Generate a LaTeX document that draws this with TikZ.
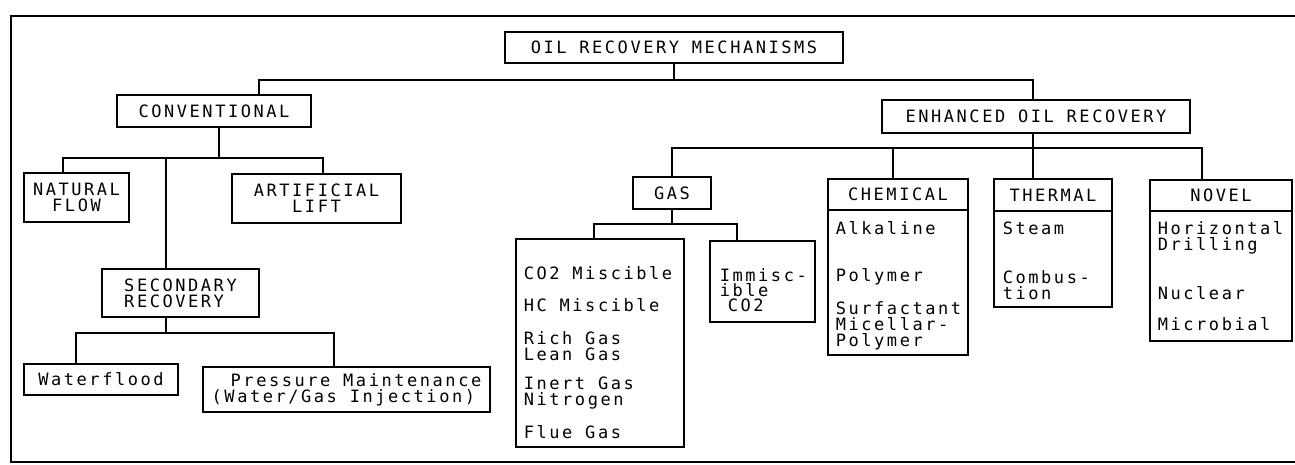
\documentclass[tikz,border=0pt]{standalone}
\usepackage{fontspec}
\newfontfamily\dm{DejaVu Sans Mono}[LetterSpace=15]
\begin{document}
\begin{tikzpicture}[x=1pt,y=-1pt,
  line width=1.7pt,
  lbl/.style={font=\dm\fontsize{17}{16}\selectfont},
  box/.style={draw, rectangle, inner sep=0pt, lbl},
  txt/.style={inner sep=0pt, anchor=base west, lbl}]
\useasboundingbox (0,0) rectangle (1295,464);
% frame
\draw (1295,16) -- (11,16) -- (11,462) -- (1295,462);
% boxes
\node[box, minimum width=338, minimum height=31] (root) at (674,47.5) {OIL RECOVERY MECHANISMS};
\node[box, minimum width=194, minimum height=32] (conv) at (214,111) {CONVENTIONAL};
\node[box, minimum width=308, minimum height=33] (eor) at (1036,116.5) {ENHANCED OIL RECOVERY};
\node[box, minimum width=105, minimum height=49, align=center] (natural) at (76.5,197.5) {NATURAL\\FLOW};
\node[box, minimum width=169, minimum height=49, align=center] (artificial) at (316.5,198.5) {ARTIFICIAL\\LIFT};
\node[box, minimum width=157, minimum height=48, align=left] (secondary) at (180.5,293) {SECONDARY\\RECOVERY};
\node[box, minimum width=154, minimum height=31] (waterflood) at (101,379.5) {Waterflood};
\node[box, minimum width=287, minimum height=45, align=left] (pressure) at (346.5,389.5) {\hspace*{19pt}Pressure Maintenance\\(Water/Gas Injection)};
\node[box, minimum width=78, minimum height=32] (gas) at (672,193) {GAS};
\node[box, minimum width=168, minimum height=208] (gaslist) at (600,343) {};
\node[box, minimum width=105, minimum height=81] (immisc) at (762.5,281.5) {};
\node[box, minimum width=140, minimum height=31] (chem) at (898,194.5) {CHEMICAL};
\node[box, minimum width=140, minimum height=145] (chembody) at (898,282.5) {};
\node[box, minimum width=118, minimum height=32] (thermal) at (1053,195) {THERMAL};
\node[box, minimum width=118, minimum height=96] (thermalbody) at (1053,259) {};
\node[box, minimum width=142, minimum height=31] (novel) at (1221,195.5) {NOVEL};
\node[box, minimum width=142, minimum height=130] (novelbody) at (1221,276) {};
% list texts
\node[txt] (g1) at (523,279) {CO2 Miscible};
\node[txt] (g2) at (523,311) {HC Miscible};
\node[txt] (g3) at (523,344) {Rich Gas};
\node[txt] (g4) at (523,360) {Lean Gas};
\node[txt] (g5) at (523,389) {Inert Gas};
\node[txt] (g6) at (523,405) {Nitrogen};
\node[txt] (g7) at (523,438) {Flue Gas};
\node[txt] (i1) at (719,281) {Immisc-};
\node[txt] (i2) at (719,296) {ible};
\node[txt] (i3) at (727,311) {CO2};
\node[txt] (c1) at (835,234) {Alkaline};
\node[txt] (c2) at (835,281) {Polymer};
\node[txt] (c3) at (835,314) {Surfactant};
\node[txt] (c4) at (835,330) {Micellar-};
\node[txt] (c5) at (835,346) {Polymer};
\node[txt] (h1) at (1002,234) {Steam};
\node[txt] (h2) at (1002,283) {Combus-};
\node[txt] (h3) at (1002,299) {tion};
\node[txt] (n1) at (1157,234) {Horizontal};
\node[txt] (n2) at (1157,250) {Drilling};
\node[txt] (n3) at (1157,299) {Nuclear};
\node[txt] (n4) at (1157,330) {Microbial};
% buses
\coordinate (bus0) at (0,80);
\coordinate (bus1) at (0,158);
\coordinate (bus2) at (0,333);
\coordinate (bus3) at (0,148);
\coordinate (bus4) at (0,224);
% connectors
\draw (root.south) -- (root.south |- bus0);
\draw ([xshift=45]conv.north) |- ([xshift=-3]eor.north |- bus0) -- ([xshift=-3]eor.north);
\draw ([xshift=5]conv.south) -- ([xshift=5]conv.south |- bus1);
\draw ([xshift=-13.5]natural.north) |- ([xshift=6.5]artificial.north |- bus1) -- ([xshift=6.5]artificial.north);
\draw ([xshift=-14.5]secondary.north) -- ([xshift=-14.5]secondary.north |- bus1);
\draw ([xshift=-14.5]secondary.south) -- ([xshift=-14.5]secondary.south |- bus2);
\draw ([xshift=-25]waterflood.north) |- ([xshift=-12.5]pressure.north |- bus2) -- ([xshift=-12.5]pressure.north);
\draw ([xshift=-3]eor.south) -- ([xshift=-3]eor.south |- bus3);
\draw (gas.north) |- ([xshift=-19]novel.north |- bus3) -- ([xshift=-19]novel.north);
\draw ([xshift=-5]chem.north) -- ([xshift=-5]chem.north |- bus3);
\draw ([xshift=-20]thermal.north) -- ([xshift=-20]thermal.north |- bus3);
\draw (gas.south) -- (gas.south |- bus4);
\draw ([xshift=-6]gaslist.north) |- ([xshift=-25.5]immisc.north |- bus4) -- ([xshift=-25.5]immisc.north);
\end{tikzpicture}
\end{document}
